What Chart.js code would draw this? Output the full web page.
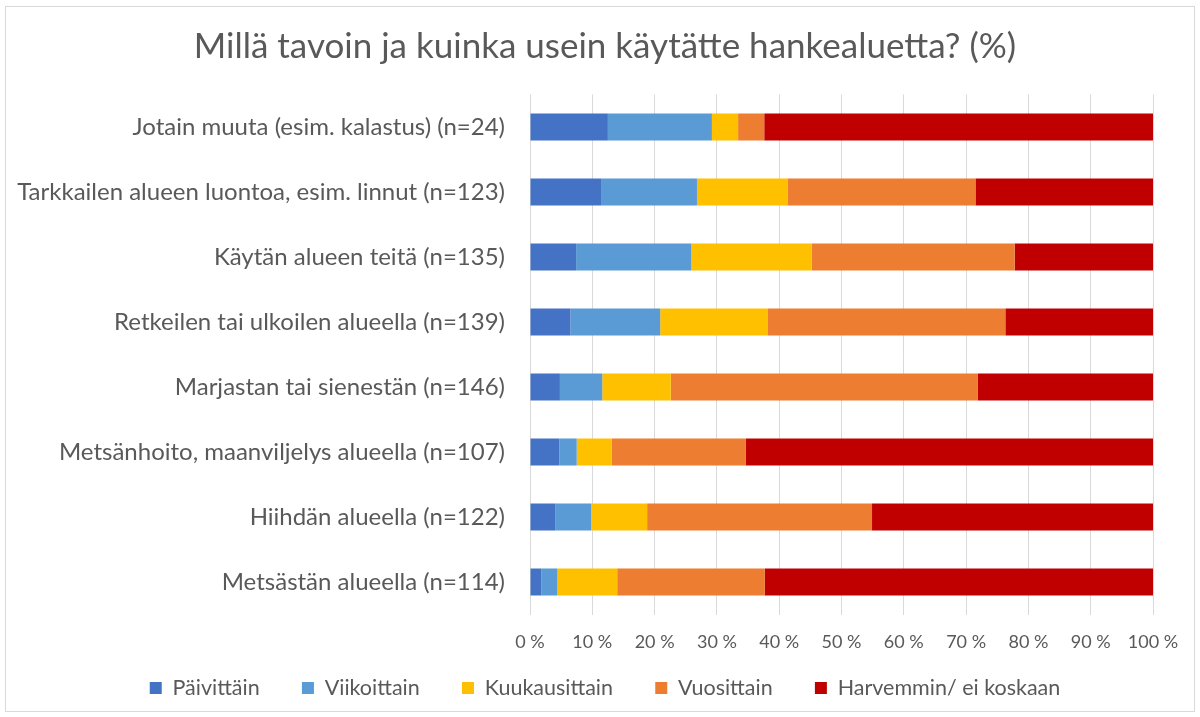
<!DOCTYPE html>
<html>
<head>
<meta charset="utf-8">
<script src="https://cdn.jsdelivr.net/npm/chart.js@4.4.0/dist/chart.umd.min.js"></script>
<style>
  html, body { margin: 0; padding: 0; background: #fff; }
  #wrap { position: relative; width: 1200px; height: 717px; }
  #frame { position: absolute; left: 5px; top: 6px; width: 1188px; height: 704px; border: 1px solid #d9d9d9; pointer-events: none; }
</style>
</head>
<body>
<div id="wrap">
  <canvas id="myChart" width="1200" height="717"></canvas>
  <div id="frame"></div>
</div>
<script>
const categories = [
  'Jotain muuta (esim. kalastus) (n=24)',
  'Tarkkailen alueen luontoa, esim. linnut (n=123)',
  'Käytän alueen teitä (n=135)',
  'Retkeilen tai ulkoilen alueella (n=139)',
  'Marjastan tai sienestän (n=146)',
  'Metsänhoito, maanviljelys alueella (n=107)',
  'Hiihdän alueella (n=122)',
  'Metsästän alueella (n=114)'
];

// prosentit kustakin ryhmästä
const paivittain    = [12.5, 11.4, 7.4, 6.5, 4.8, 4.7, 4.1, 1.8];
const viikoittain   = [16.7, 15.4, 18.5, 14.4, 6.8, 2.8, 5.7, 2.6];
const kuukausittain = [4.2, 14.6, 19.3, 17.3, 11.0, 5.6, 9.0, 9.6];
const vuosittain    = [4.2, 30.1, 32.6, 38.1, 49.3, 21.5, 36.1, 23.7];
const harvemmin     = [62.5, 28.5, 22.2, 23.7, 28.1, 65.4, 45.1, 62.3];

const xTicks = [0, 10, 20, 30, 40, 50, 60, 70, 80, 90, 100];

const fontName = 'Lato, "Open Sans", sans-serif';
const grey = '#595959';

function ds(label, data, color) {
  return {
    label: label,
    data: data,
    backgroundColor: color,
    borderWidth: 0,
    barPercentage: 0.415,
    categoryPercentage: 1.0
  };
}

new Chart('myChart', {
  type: 'bar',
  data: {
    labels: categories,
    datasets: [
      ds('Päivittäin', paivittain, '#4472C4'),
      ds('Viikoittain', viikoittain, '#5B9BD5'),
      ds('Kuukausittain', kuukausittain, '#FFC000'),
      ds('Vuosittain', vuosittain, '#ED7D31'),
      ds('Harvemmin/ ei koskaan', harvemmin, '#C00000')
    ]
  },
  options: {
    indexAxis: 'y',
    responsive: false,
    animation: false,
    layout: { padding: { left: 10, right: 0, top: 0, bottom: 8.25 } },
    scales: {
      x: {
        stacked: true,
        min: 0,
        max: 100,
        afterBuildTicks: function(scale) {
          scale.ticks = xTicks.map(v => ({ value: v }));
        },
        afterFit: function(scale) { scale.height -= 2.25; },
        grid: { color: '#d9d9d9', lineWidth: 1, drawTicks: false },
        border: { display: false },
        ticks: {
          color: grey,
          padding: 16.7,
          font: { family: fontName, size: 18 },
          callback: v => v + ' %'
        }
      },
      y: {
        stacked: true,
        afterFit: function(scale) { scale.width = 520; },
        grid: { display: false },
        border: { display: false },
        ticks: {
          color: grey,
          padding: 17,
          font: { family: fontName, size: 24 }
        }
      },
      yRight: {
        axis: 'y',
        position: 'right',
        afterFit: function(scale) { scale.width = 47; },
        grid: { display: false },
        border: { display: false },
        ticks: { display: false }
      }
    },
    plugins: {
      title: {
        display: true,
        text: 'Millä tavoin ja kuinka usein käytätte hankealuetta? (%)',
        color: grey,
        font: { family: fontName, size: 35, weight: 'normal' },
        padding: { top: 26, bottom: 26.4 }
      },
      legend: {
        display: true,
        position: 'bottom',
        labels: {
          color: grey,
          boxWidth: 12,
          boxHeight: 12,
          padding: 10,
          font: { family: fontName, size: 21.5 },
          // wider gaps between items without making the legend taller
          generateLabels: function(chart) {
            const items = Chart.defaults.plugins.legend.labels.generateLabels(chart);
            items.forEach((item, i) => {
              if (i < items.length - 1) item.text = item.text + '\u2002\u2002\u2002';
            });
            return items;
          }
        }
      },
      tooltip: { enabled: false }
    }
  }
});
</script>
</body>
</html>
